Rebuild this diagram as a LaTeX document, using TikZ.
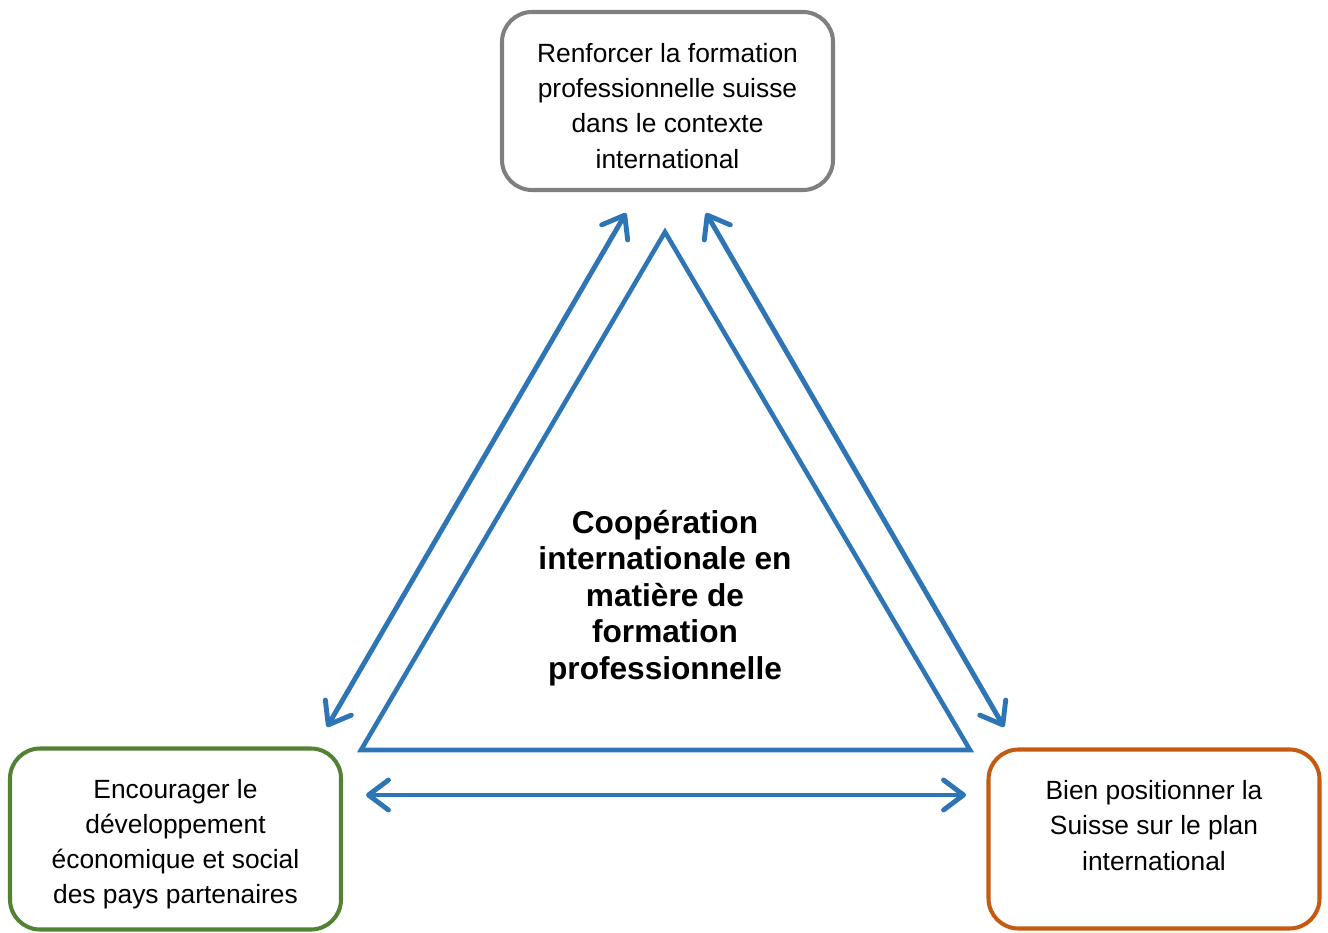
\documentclass[tikz,border=0pt]{standalone}
\usepackage{fontspec}
\setmainfont{Liberation Sans}
\usetikzlibrary{arrows.meta}

\definecolor{arrowblue}{HTML}{2E75B6}
\definecolor{boxgray}{HTML}{7F7F7F}
\definecolor{boxgreen}{HTML}{548235}
\definecolor{boxorange}{HTML}{C55A11}

\tikzset{
  goalbox/.style={draw, line width=2.3pt, rounded corners=0.6cm, minimum width=6.62cm},
  goaltext/.style={align=center, font=\fontsize{15}{20}\selectfont},
  linkarrow/.style={arrowblue, line width=2.8pt, line cap=round,
    {Straight Barb[length=4mm,width=6mm,round]}-{Straight Barb[length=4mm,width=6mm,round]}}
}

\begin{document}
\begin{tikzpicture}
%\draw[help lines] (0,0) grid (27,19);
\useasboundingbox (0,0) rectangle (26.56,18.64);

 \node[goalbox, draw=boxgray, minimum height=3.56cm] (renforcer) at (13.35,16.62) {};
 \node[goaltext, yshift=-0.1cm] (renforcertext) at (renforcer)
  {Renforcer la formation\\professionnelle suisse\\dans le contexte\\international};

 \node[goalbox, draw=boxgreen, minimum height=3.62cm] (encourager) at (3.51,1.86) {};
 \node[goaltext, yshift=-0.1cm] (encouragertext) at (encourager)
  {Encourager le\\développement\\économique et social\\des pays partenaires};

 \node[goalbox, draw=boxorange, minimum height=3.58cm] (positionner) at (23.08,1.86) {};
 \node[goaltext, yshift=0.27cm] (positionnertext) at (positionner)
  {Bien positionner la\\Suisse sur le plan\\international};

 % triangle
 \coordinate (apex) at (13.30,14.00);
 \coordinate (baseleft) at (7.22,3.64);
 \coordinate (baseright) at (19.40,3.64);
 \draw[arrowblue, line width=2.6pt] (apex) -- (baseleft) -- (baseright) -- cycle;

 \node[align=center, font=\fontsize{18}{20.7}\selectfont\bfseries] (cooperation) at (13.30,6.68)
  {Coopération\\internationale en\\matière de\\formation\\professionnelle};

 % arrows
 \coordinate (topleft) at (12.52,14.38);
 \coordinate (topright) at (14.12,14.38);
 \coordinate (leftup) at (6.54,4.10);
 \coordinate (rightup) at (20.08,4.10);
 \coordinate (leftmid) at (7.32,2.74);
 \coordinate (rightmid) at (19.32,2.74);

 \draw[linkarrow] (leftup) -- (topleft);
 \draw[linkarrow] (topright) -- (rightup);
 \draw[linkarrow] (leftmid) -- (rightmid);

\end{tikzpicture}
\end{document}
